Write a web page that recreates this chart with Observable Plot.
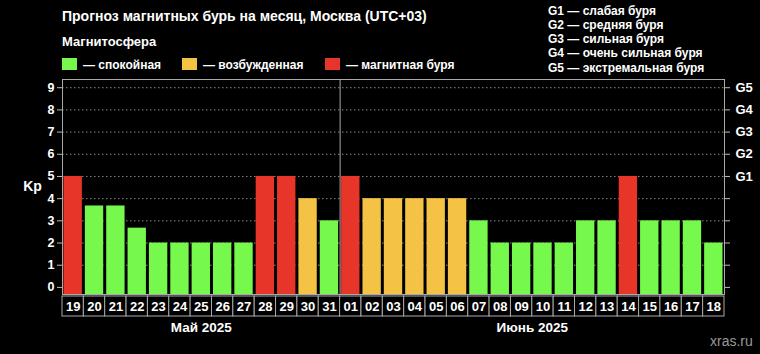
<!DOCTYPE html>
<html><head><meta charset="utf-8">
<script src="https://cdn.jsdelivr.net/npm/d3@7"></script>
<script src="https://cdn.jsdelivr.net/npm/@observablehq/plot@0.6"></script>
<style>
html,body{margin:0;padding:0;background:#000;}
#wrap{position:relative;width:760px;height:354px;background:#000;overflow:hidden;color:#fff;
  font-family:"Liberation Sans",Arial,sans-serif;}
.abs{position:absolute;white-space:nowrap;line-height:1;}
.sw{position:absolute;width:15px;height:12px;}
svg{position:absolute;left:0;}
</style></head>
<body><div id="wrap"></div>
<script>
// ---- data ----
const days = ["19","20","21","22","23","24","25","26","27","28","29","30","31",
              "01","02","03","04","05","06","07","08","09","10","11","12","13","14","15","16","17","18"];
const months = ["Май 2025","Май 2025","Май 2025","Май 2025","Май 2025","Май 2025","Май 2025","Май 2025","Май 2025","Май 2025","Май 2025","Май 2025","Май 2025",
                "Июнь 2025","Июнь 2025","Июнь 2025","Июнь 2025","Июнь 2025","Июнь 2025","Июнь 2025","Июнь 2025","Июнь 2025","Июнь 2025","Июнь 2025","Июнь 2025","Июнь 2025","Июнь 2025","Июнь 2025","Июнь 2025","Июнь 2025","Июнь 2025"];
const kp = [5, 3.67, 3.67, 2.67, 2, 2, 2, 2, 2, 5, 5, 4, 3,
            5, 4, 4, 4, 4, 4, 3, 2, 2, 2, 2, 3, 3, 5, 3, 3, 3, 2];
const status = [2,0,0,0,0,0,0,0,0,2,2,1,0,
                2,1,1,1,1,1,0,0,0,0,0,0,0,2,0,0,0,0];
const statusLabels = ["спокойная","возбужденная","магнитная буря"];
const statusColors = ["#77f84c","#f4c245","#e8352a"];
const gLegend = ["G1 — слабая буря","G2 — средняя буря","G3 — сильная буря","G4 — очень сильная буря","G5 — экстремальная буря"];
const kpTicks = [0,1,2,3,4,5,6,7,8,9];
const gTickLabels = {5:"G1",6:"G2",7:"G3",8:"G4",9:"G5"};
const titleText = "Прогноз магнитных бурь на месяц, Москва (UTC+03)";
const legendTitle = "Магнитосфера";
const yAxisLabel = "Kp";
const yDomain = [-0.32, 9.37];

const data = days.map((d,i)=>({i, day:d, month:months[i], kp:kp[i], st:statusLabels[status[i]]}));
const monthStarts = data.filter((d,i)=>i>0 && d.month!==data[i-1].month).map(d=>d.i);
const monthNames = Array.from(new Set(months));
const monthCenters = monthNames.map(m=>({m, x: d3.mean(data.filter(d=>d.month===m), d=>d.i)+0.5}));

const wrap = document.getElementById("wrap");
const ff = "Liberation Sans, Arial, sans-serif";

const main = Plot.plot({
  width:760, height:296, marginTop:79, marginBottom:2, marginLeft:62, marginRight:36,
  style:{background:"#000", color:"#fff", fontFamily:ff, fontSize:"12px", fontWeight:"bold"},
  x:{domain:[0, days.length], axis:null},
  y:{domain:yDomain, axis:null},
  color:{domain:statusLabels, range:statusColors},
  marks:[
    Plot.ruleY(kpTicks.filter(t=>t>0), {stroke:"#888", strokeDasharray:"1.5,2.5", strokeWidth:1}),
    Plot.rectY(data, {x1:"i", x2:d=>d.i+1, y1:yDomain[0], y2:"kp", fill:"st", insetLeft:1.5, insetRight:1.5}),
    Plot.ruleX(monthStarts, {stroke:"#aaa", strokeWidth:1}),
    Plot.frame({stroke:"#aaa"}),
    Plot.axisY({anchor:"left", ticks:kpTicks, tickSize:5, tickPadding:3, label:null, stroke:"#bbb", fontSize:12.5}),
    Plot.axisY({anchor:"right", ticks:kpTicks, tickSize:5, tickPadding:6, label:null, stroke:"#bbb", fontSize:13,
                tickFormat:t=>gTickLabels[t]||""}),
    Plot.text([yAxisLabel], {frameAnchor:"left", dx:-30, textAnchor:"middle", fontSize:14, fontWeight:"bold", fill:"#fff"})
  ]
});
main.style.top = "0px";
wrap.appendChild(main);

const strip = Plot.plot({
  width:760, height:58, marginTop:1, marginBottom:37, marginLeft:62, marginRight:36,
  style:{background:"transparent", color:"#fff", fontFamily:ff, fontSize:"13px", fontWeight:"bold"},
  x:{domain:[0, days.length], axis:null},
  marks:[
    Plot.rect(data, {x1:"i", x2:d=>d.i+1, fill:"#000", stroke:"#aaa"}),
    Plot.text(data, {x:d=>d.i+0.5, text:"day", frameAnchor:"middle", fill:"#fff", fontSize:13, fontWeight:"bold"}),
    Plot.text(monthCenters, {x:"x", text:"m", frameAnchor:"bottom", dy:15, fill:"#fff", fontSize:13.5, fontWeight:"bold"})
  ]
});
strip.style.top = "295px";
wrap.appendChild(strip);

function addText(txt, left, top, size, weight, color){
  const el = document.createElement("div");
  el.className = "abs";
  el.textContent = txt;
  el.style.left = left+"px"; el.style.top = top+"px";
  el.style.fontSize = size+"px"; el.style.fontWeight = weight; el.style.color = color||"#fff";
  wrap.appendChild(el);
  return el;
}
addText(titleText, 62, 9, 14, "bold");
addText(legendTitle, 62, 35, 13, "bold");
const swX = [62, 182, 325];
statusLabels.forEach((s,k)=>{
  const sw = document.createElement("div");
  sw.className = "sw"; sw.style.left = swX[k]+"px"; sw.style.top = "58px"; sw.style.background = statusColors[k];
  wrap.appendChild(sw);
  addText("— "+s, swX[k]+21, 58.5, 12, "bold");
});
gLegend.forEach((g,k)=>addText(g, 548, 4.8+k*14.2, 12, "bold"));
addText("xras.ru", 710, 334, 14, "normal", "#999");
</script>
</body></html>
